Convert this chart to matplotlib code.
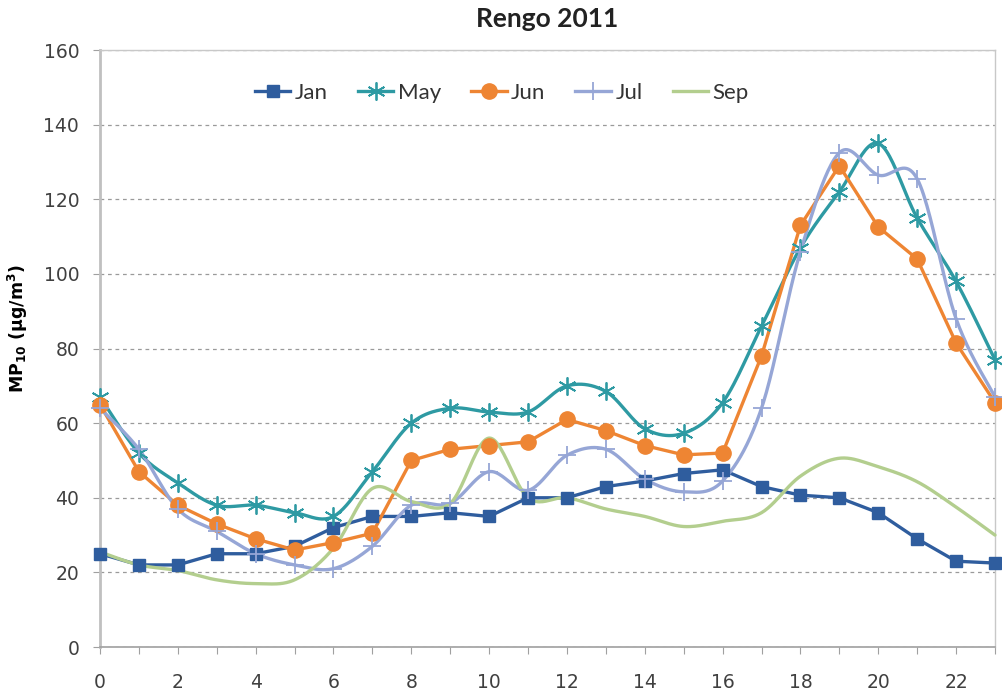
import numpy as np
import matplotlib
matplotlib.use("Agg")
import matplotlib.pyplot as plt
from matplotlib.lines import Line2D

hours = list(range(24))
jan = [25, 22, 22, 25, 25, 27, 32, 35, 35, 36, 35, 40, 40, 43, 44.5, 46.5, 47.5, 43, 40.7, 40, 36, 29, 23, 22.5]
may = [67, 52, 44, 38, 38, 36, 35, 47, 60, 64, 63, 63, 70, 68.5, 58.5, 57.3, 65.5, 86, 107, 122, 135, 115, 98, 77]
jun = [65, 47, 38, 33, 29, 26, 28, 30.5, 50, 53, 54, 55, 61, 58, 54, 51.5, 52, 78, 113, 129, 112.6, 104, 81.5, 65.5]
jul = [64, 53, 37, 31, 25, 22, 21, 27, 38, 38.5, 47, 42, 51.4, 53, 45, 41.6, 44.5, 64, 106, 132.5, 126.5, 125.5, 88, 67]
sep = [25.5, 22, 20.5, 18, 17, 18, 26.5, 42.5, 39, 38.5, 56, 40, 40, 37, 35, 32.3, 33.7, 36, 45.8, 50.6, 48.3, 44.3, 37.5, 30]

series = ["Jan", "May", "Jun", "Jul", "Sep"]
colors = {"Jan": "#2f5d9e", "May": "#2e9aa3", "Jun": "#ee8533", "Jul": "#96a6d6", "Sep": "#b3ce8e"}
smooth = {"Jan": False, "May": True, "Jun": False, "Jul": True, "Sep": True}
values = {"Jan": jan, "May": may, "Jun": jun, "Jul": jul, "Sep": sep}


def smooth_curve(x, y, n=24):
    x = np.asarray(x, float)
    y = np.asarray(y, float)
    P = np.column_stack([x, y])
    out = []
    m = len(P)
    for i in range(m - 1):
        p0 = P[max(i - 1, 0)]
        p1 = P[i]
        p2 = P[i + 1]
        p3 = P[min(i + 2, m - 1)]
        b1 = p1 + (p2 - p0) / 6.0
        b2 = p2 - (p3 - p1) / 6.0
        t = np.linspace(0, 1, n, endpoint=(i == m - 2))[:, None]
        seg = ((1 - t) ** 3) * p1 + 3 * ((1 - t) ** 2) * t * b1 + 3 * (1 - t) * t ** 2 * b2 + t ** 3 * p2
        out.append(seg)
    c = np.vstack(out)
    return c[:, 0], c[:, 1]


fig = plt.figure(figsize=(10.02, 6.96), dpi=100)
ax = fig.add_axes([0.0998, 0.0704, 0.993 - 0.0998, 0.928 - 0.0704])

markers = {
    "Jan": dict(marker="s", markersize=8),
    "May": dict(marker=(6, 2, 0), markersize=13, markeredgewidth=1.3),
    "Jun": dict(marker="o", markersize=11),
    "Jul": dict(marker="+", markersize=13, markeredgewidth=1.3),
    "Sep": dict(marker=None),
}

handles = []
for name in series:
    c = colors[name]
    yv = values[name]
    if smooth[name]:
        xs, ys = smooth_curve(hours, yv)
    else:
        xs, ys = hours, yv
    ax.plot(xs, ys, color=c, lw=2.4, solid_capstyle="round", zorder=3, clip_on=False)
    mk = markers[name]
    if mk.get("marker") is not None:
        ax.plot(hours, yv, linestyle="none", color=c, markeredgecolor=c, zorder=4, clip_on=False, **mk)
    handles.append(Line2D([0], [0], color=c, lw=2.4, markeredgecolor=c, **mk))

ax.set_xlim(0, 23)
ax.set_ylim(0, 160)
ax.set_xticks(range(0, 24))
ax.set_xticklabels([str(h) if h % 2 == 0 else "" for h in range(24)])
ax.set_yticks(range(0, 161, 20))
ax.yaxis.grid(True, linestyle=(0, (3, 3)), color="#9a9a9a", lw=0.9)
ax.set_axisbelow(True)
ax.tick_params(axis="both", direction="out", length=5, color="#a0a0a0", labelsize=13.5,
               labelcolor="#404040")
ax.tick_params(axis="y", pad=10)
ax.tick_params(axis="x", pad=14)
for s in ["top", "right"]:
    ax.spines[s].set_color("#c8c8c8")
    ax.spines[s].set_linewidth(1.0)
ax.spines["left"].set_color("#c0c0c0")
ax.spines["left"].set_linewidth(2.0)
ax.spines["bottom"].set_color("#a0a0a0")
ax.spines["bottom"].set_linewidth(1.2)

fig.text(547 / 1002, 1 - 19 / 696, "Rengo 2011", fontsize=19, fontweight="bold", family="Lato",
         color="#222222", ha="center", va="center")
ax.set_ylabel(r"MP$_{\mathbf{10}}$ (µg/m$^{\mathbf{3}}$)", fontsize=12.5, fontweight="bold")
ax.yaxis.set_label_coords(-0.0785, 0.534)

leg = ax.legend(handles, series, loc="center", bbox_to_anchor=(0.449, 0.928), ncol=5, frameon=False,
                handlelength=1.6, columnspacing=1.35, handletextpad=0.2,
                prop={"family": "Lato", "size": 16})
for t in leg.get_texts():
    t.set_color("#333333")

fig.savefig("out.png", dpi=100)
